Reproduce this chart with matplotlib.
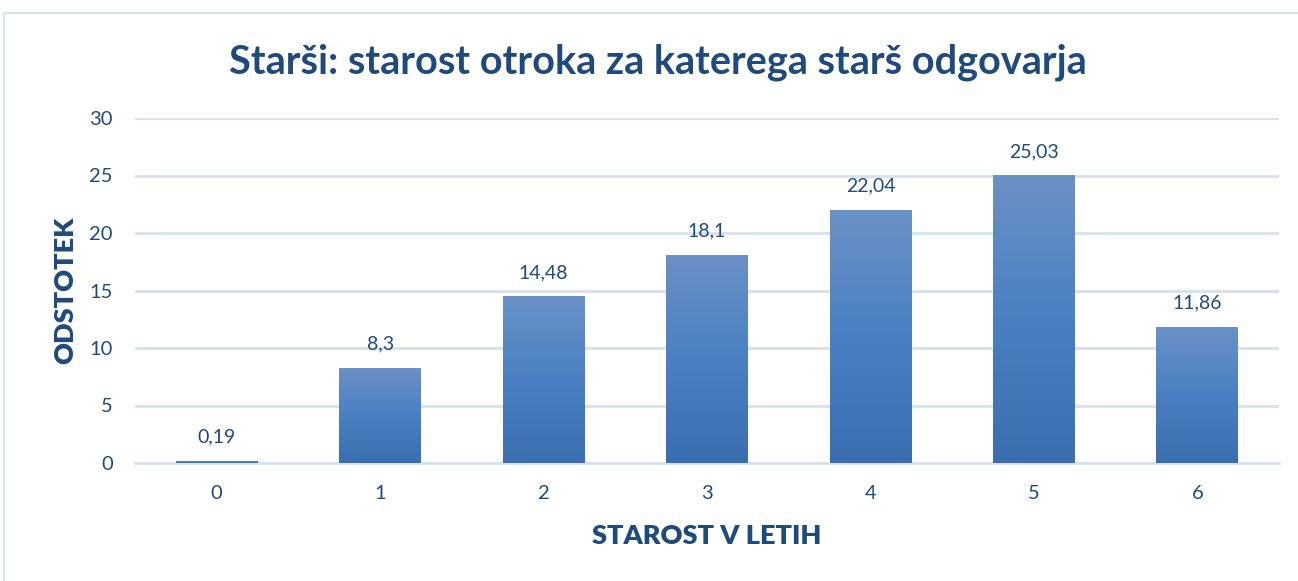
import numpy as np
import matplotlib
matplotlib.use("Agg")
import matplotlib.pyplot as plt
from matplotlib.patches import Rectangle

ages = ["0", "1", "2", "3", "4", "5", "6"]
percent = [0.19, 8.3, 14.48, 18.1, 22.04, 25.03, 11.86]
labels = ["0,19", "8,3", "14,48", "18,1", "22,04", "25,03", "11,86"]

text_col = "#1f4a7c"
grid_col = "#d6e1f0"

plt.rcParams["font.family"] = ["Lato", "DejaVu Sans"]

fig = plt.figure(figsize=(12.98, 5.81), dpi=100)
ax = fig.add_axes([135 / 1298, 1 - 463 / 581, (1279 - 135) / 1298, (463 - 118) / 581])

# chart frame
fig.patches.append(Rectangle((4 / 1298, -0.1), 1.2, 1 - 13 / 581 + 0.1,
                             transform=fig.transFigure, fill=False,
                             edgecolor="#d4deea", linewidth=1.2))

x = np.arange(len(ages))
bars = ax.bar(x, percent, width=0.5, color="#4a7ebf", zorder=2)

# vertical gradient: lighter on top, darker at the base
grad = np.linspace(0, 1, 256).reshape(-1, 1)
cmap = matplotlib.colors.LinearSegmentedColormap.from_list("g", ["#3a6eb0", "#4a80c3", "#6b91c7"])
for b in bars:
    bx, by = b.get_x(), b.get_y()
    w, h = b.get_width(), b.get_height()
    im = ax.imshow(grad, cmap=cmap, origin="lower", aspect="auto",
                   extent=[bx, bx + w, by, by + h], zorder=3)
    im.set_clip_path(b)

for xi, v, lab in zip(x, percent, labels):
    ax.annotate(lab, (xi, v), xytext=(0, 11), textcoords="offset points",
                ha="center", va="bottom", fontsize=14, color=text_col)

ax.set_xlim(-0.5, 6.5)
ax.set_ylim(0, 30)
ax.set_yticks(range(0, 31, 5))
ax.set_xticks(x)
ax.set_xticklabels(ages)
ax.yaxis.grid(True, color=grid_col, linewidth=2, zorder=0)
ax.set_axisbelow(True)
for s in ["top", "right", "left"]:
    ax.spines[s].set_visible(False)
ax.spines["bottom"].set_color(grid_col)
ax.spines["bottom"].set_linewidth(2)
ax.tick_params(axis="both", length=0, labelsize=14.5, labelcolor=text_col)
ax.tick_params(axis="y", pad=16)
ax.tick_params(axis="x", pad=16)

ax.set_xlabel("STAROST V LETIH", fontsize=19.5, fontweight="heavy", color=text_col, labelpad=16)
ax.set_ylabel("ODSTOTEK", fontsize=19.5, fontweight="heavy", color=text_col, labelpad=9)

fig.text(658 / 1298, 1 - 62 / 581, "Starši: starost otroka za katerega starš odgovarja",
         ha="center", va="center", fontsize=28.5, fontweight="bold", color=text_col)

fig.savefig("out.png", dpi=100)
